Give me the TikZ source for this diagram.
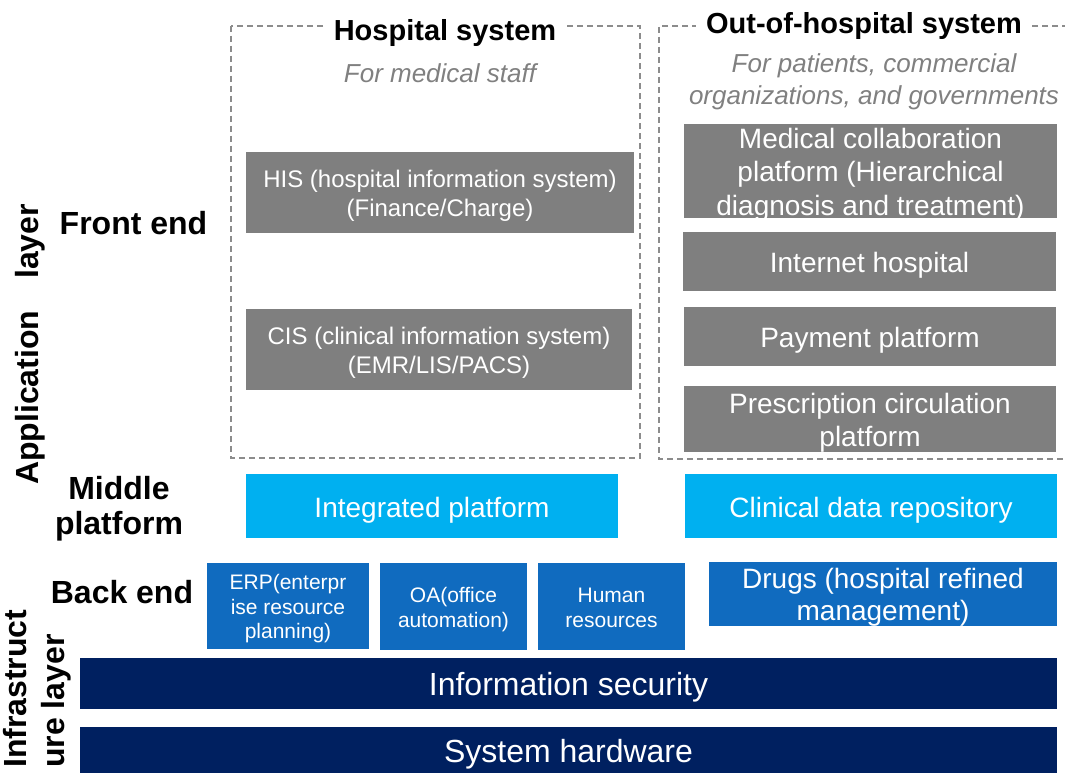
\documentclass[tikz,border=0pt]{standalone}
\usepackage{fontspec}
\setmainfont{Liberation Sans}
\definecolor{cgray}{HTML}{7F7F7F}
\definecolor{clight}{HTML}{00B0F0}
\definecolor{cmid}{HTML}{106BBF}
\definecolor{cnavy}{HTML}{002060}
\definecolor{cdash}{HTML}{8C8C8C}
\definecolor{csub}{HTML}{808080}
\newcommand\bxtext[2][0pt]{\raisebox{\dimexpr-0.118em-1pt\relax}[\dimexpr\height-#1\relax][\dimexpr\depth-#1\relax]{\begin{tabular}{@{}c@{}}#2\end{tabular}}}
\begin{document}
\begin{tikzpicture}[x=1pt,y=-1pt,
  bx/.style={inner sep=0pt, text=white},
  gbox/.style={bx, fill=cgray, font=\fontsize{28}{33.4}\selectfont},
  gsbox/.style={bx, fill=cgray, font=\fontsize{24}{29}\selectfont},
  lbox/.style={bx, fill=clight, font=\fontsize{28}{33.6}\selectfont},
  mbox/.style={bx, fill=cmid, font=\fontsize{28}{32}\selectfont},
  msbox/.style={bx, fill=cmid, font=\fontsize{21}{24.5}\selectfont},
  nbox/.style={bx, fill=cnavy, font=\fontsize{32}{38}\selectfont},
  lbl/.style={inner sep=0pt, align=center, font=\fontsize{32}{35}\selectfont\bfseries},
  ttl/.style={inner ysep=2pt, inner xsep=10pt, fill=white, font=\fontsize{29}{34}\selectfont\bfseries},
  sub/.style={inner sep=0pt, align=center, text=csub, font=\fontsize{26}{32}\selectfont\itshape},
  dashbox/.style={draw=cdash, line width=1.2pt, dash pattern=on 6pt off 4pt}
]
\useasboundingbox (0,0) rectangle (1065,773);

% dashed group frames
\draw[dashbox] (231,26) rectangle (640,458);
\draw[dashbox] (1068,26) -- (659,26) -- (659,459) -- (1068,459);

\node[ttl, anchor=base] (hosp) at (445,41) {Hospital system};
\node[ttl, anchor=base] (outh) at (864,34) {Out-of-hospital system};
\node[sub, anchor=base] (hsub) at (440,83) {For medical staff};
\node[sub] (osub) at (874,82) {For patients, commercial\\organizations, and governments};

% hospital boxes
\node[gsbox, minimum width=388pt, minimum height=81pt] (his) at (440,192.5) {\bxtext{HIS (hospital information system)\\(Finance/Charge)}};
\node[gsbox, minimum width=386pt, minimum height=81pt] (cis) at (439,349.5) {\bxtext{CIS (clinical information system)\\(EMR/LIS/PACS)}};

% out-of-hospital boxes
\node[gbox, minimum width=373pt, minimum height=94pt] (med) at (870.5,171) {\bxtext[8pt]{Medical collaboration\\platform (Hierarchical\\diagnosis and treatment)}};
\node[gbox, minimum width=373pt, minimum height=59pt] (inet) at (869.5,261.5) {\bxtext{Internet hospital}};
\node[gbox, minimum width=372pt, minimum height=59pt] (pay) at (870,336.5) {\bxtext{Payment platform}};
\node[gbox, minimum width=372pt, minimum height=66pt] (presc) at (870,419) {\bxtext[4pt]{Prescription circulation\\platform}};

% middle platform
\node[lbox, minimum width=372pt, minimum height=64pt] (integ) at (432,506) {\bxtext{Integrated platform}};
\node[lbox, minimum width=372pt, minimum height=64pt] (cdr) at (871,506) {\bxtext{Clinical data repository}};

% back end
\node[msbox, minimum width=162pt, minimum height=86pt] (erp) at (288,606) {\bxtext{ERP(enterpr\\ise resource\\planning)}};
\node[msbox, minimum width=147pt, minimum height=87pt] (oa) at (453.5,606.5) {\bxtext{OA(office\\automation)}};
\node[msbox, minimum width=147pt, minimum height=87pt] (hr) at (611.5,606.5) {\bxtext{Human\\resources}};
\node[mbox, minimum width=348pt, minimum height=64pt] (drugs) at (883,594) {\bxtext[4pt]{Drugs (hospital refined\\management)}};

% infrastructure
\node[nbox, minimum width=977pt, minimum height=51pt] (sec) at (568.5,683.5) {\bxtext{Information security}};
\node[nbox, minimum width=977pt, minimum height=46pt] (hw) at (568.5,750) {\bxtext{System hardware}};

% left labels
\node[lbl] (front) at (133.5,223) {Front end};
\node[lbl] (middle) at (119,509) {Middle\\platform};
\node[lbl] (back) at (122,592) {Back end};
\node[lbl, rotate=90, anchor=base west] (app) at (38,485) {Application\hspace{23pt} layer};
\node[lbl, rotate=90, anchor=base west] (infra1) at (27,768) {Infrastruct};
\node[lbl, rotate=90, anchor=base west] (infra2) at (64,768) {ure layer};
\end{tikzpicture}
\end{document}
